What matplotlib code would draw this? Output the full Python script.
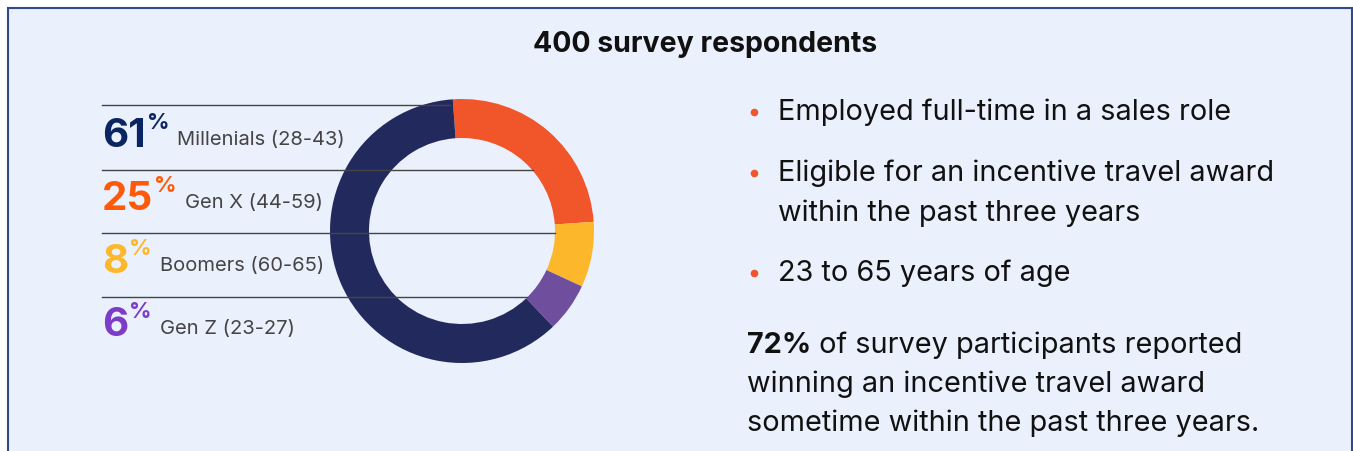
import matplotlib
matplotlib.use("Agg")
import matplotlib.pyplot as plt
from matplotlib.patches import Rectangle

plt.rcParams['font.family'] = ['Inter', 'DejaVu Sans']

# respondent split by generation (pie order, clockwise from the top)
groups = ['Gen X (44-59)', 'Boomers (60-65)', 'Gen Z (23-27)', 'Millenials (28-43)']
shares = [25, 8, 6, 61]
ring_colors = ['#F0562A', '#FDB72B', '#6F4E9E', '#22295C']

# legend rows, top to bottom
legend_order = [3, 0, 1, 2]
number_colors = ['#0B2462', '#FF5A0A', '#FDB72B', '#7C3CC8']

title = '400 survey respondents'
bullets = [['Employed full-time in a sales role'],
           ['Eligible for an incentive travel award', 'within the past three years'],
           ['23 to 65 years of age']]
note_bold = '72%'
note_lines = [' of survey participants reported',
              'winning an incentive travel award',
              'sometime within the past three years.']

W, H = 1353, 451
bg = '#EAF1FD'
fig = plt.figure(figsize=(W / 100, H / 100), dpi=100, facecolor='white')
fig.patches.append(Rectangle((8 / W, -0.1), (W - 9) / W, 1.1 - 8 / H,
                             transform=fig.transFigure, facecolor=bg,
                             edgecolor='#2E4A8C', linewidth=1.5, zorder=-5))

# donut
cx, cy, r = 462, 231, 132
ax_pie = fig.add_axes([(cx - r) / W, (H - cy - r) / H, 2 * r / W, 2 * r / H])
ax_pie.pie(shares, colors=ring_colors, startangle=94, counterclock=False,
           radius=1, wedgeprops=dict(width=39 / 132, linewidth=0))
ax_pie.set_xlim(-1, 1)
ax_pie.set_ylim(-1, 1)
ax_pie.axis('off')

# overlay in pixel coordinates
ax = fig.add_axes([0, 0, 1, 1], zorder=2)
ax.set_xlim(0, W)
ax.set_ylim(H, 0)
ax.axis('off')
ax.patch.set_alpha(0)

rend = fig.canvas.get_renderer()

ax.text(705, 45, title, ha='center', va='center', fontsize=20.5,
        fontweight='bold', color='#111111')

# legend rows with separator lines
line_y = [105, 170, 233, 297]
line_end = [450, 533, 555, 527]
row_base = [147, 210, 273, 336]
for k, i in enumerate(legend_order):
    ax.plot([102, line_end[k]], [line_y[k], line_y[k]], color='#444444', lw=1)
    num = ax.text(102, row_base[k], str(shares[i]), fontsize=29, fontweight='bold',
                  color=number_colors[k], va='baseline', ha='left')
    x1 = num.get_window_extent(rend).x1
    pct = ax.text(x1 + 1, row_base[k] - 18, '%', fontsize=16, fontweight='bold',
                  color=number_colors[k], va='baseline', ha='left')
    x2 = pct.get_window_extent(rend).x1
    ax.text(x2 + 8, row_base[k] - 2, groups[i], fontsize=14.5, color='#444444',
            va='baseline', ha='left')

# criteria list
bullet_base = [[120], [181, 221], [281]]
for lines, ys in zip(bullets, bullet_base):
    ax.plot(754, ys[0] - 8, 'o', color='#F0562A', ms=5.5, mec='none')
    for txt, y in zip(lines, ys):
        ax.text(778, y, txt, fontsize=20.8, color='#111111', va='baseline', ha='left')

note_base = [353, 392, 431]
b = ax.text(747, note_base[0], note_bold, fontsize=20.8, fontweight='bold',
            color='#111111', va='baseline', ha='left')
bx = b.get_window_extent(rend).x1
ax.text(bx, note_base[0], note_lines[0], fontsize=20.8, color='#111111',
        va='baseline', ha='left')
for txt, y in zip(note_lines[1:], note_base[1:]):
    ax.text(747, y, txt, fontsize=20.8, color='#111111', va='baseline', ha='left')

fig.savefig('out.png', dpi=100, facecolor='white')
